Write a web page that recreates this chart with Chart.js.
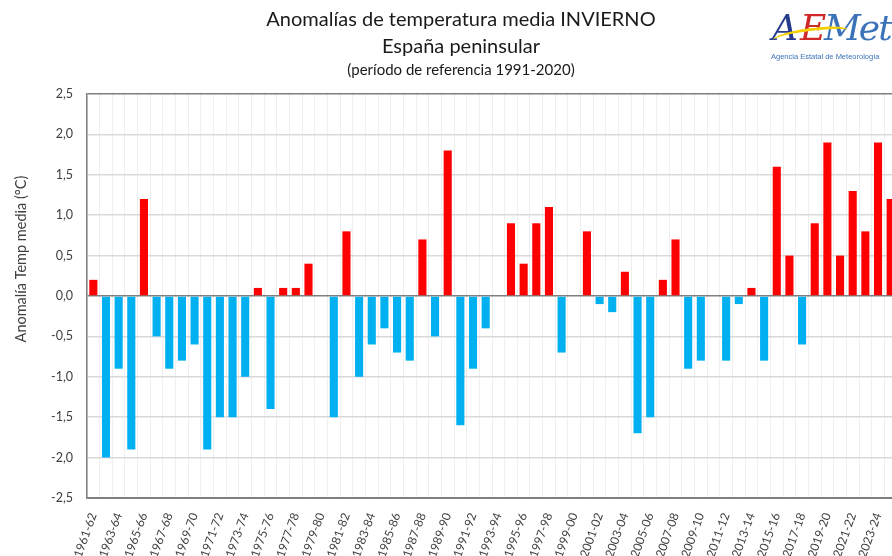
<!DOCTYPE html>
<html>
<head>
<meta charset="utf-8">
<script src="https://cdn.jsdelivr.net/npm/chart.js@4.4.1/dist/chart.umd.min.js"></script>
<style>
  body { margin: 0; width: 892px; height: 556px; overflow: hidden; background: #fff; position: relative; }
  #myChart { position: absolute; left: 0; top: 0; }
  #logo { position: absolute; left: 768px; top: 6px; width: 124px; height: 60px; }
  #logo .big { position: absolute; top: 0; font-family: "DejaVu Serif", serif; font-size: 36px; font-style: italic; line-height: 44px; }
  #logo .a { left: 4px; color: #283c8e; }
  #logo .e { left: 32px; color: #cf2a27; }
  #logo .m { left: 56px; color: #3b73b9; letter-spacing: -2px; }
  #logo .swoosh { position: absolute; left: 4px; top: 22px; width: 76px; height: 12px; border-top: 3px solid #f5d000; border-radius: 60% 40% 0 0; transform: rotate(-6deg); }
  #logo .sub { position: absolute; left: 3px; top: 46px; font-family: "Liberation Sans", sans-serif; font-size: 7.5px; color: #3b73b9; white-space: nowrap; }
</style>
</head>
<body>
<canvas id="myChart" width="922" height="556"></canvas>
<div id="logo">
  <span class="big a">A</span>
  <span class="big e">E</span>
  <span class="big m">Met</span>
  <div class="swoosh"></div>
  <div class="sub">Agencia Estatal de Meteorología</div>
</div>
<script>
const seasons = ['1961-62', '1962-63', '1963-64', '1964-65', '1965-66', '1966-67', '1967-68', '1968-69',
  '1969-70', '1970-71', '1971-72', '1972-73', '1973-74', '1974-75', '1975-76', '1976-77',
  '1977-78', '1978-79', '1979-80', '1980-81', '1981-82', '1982-83', '1983-84', '1984-85',
  '1985-86', '1986-87', '1987-88', '1988-89', '1989-90', '1990-91', '1991-92', '1992-93',
  '1993-94', '1994-95', '1995-96', '1996-97', '1997-98', '1998-99', '1999-00', '2000-01',
  '2001-02', '2002-03', '2003-04', '2004-05', '2005-06', '2006-07', '2007-08', '2008-09',
  '2009-10', '2010-11', '2011-12', '2012-13', '2013-14', '2014-15', '2015-16', '2016-17',
  '2017-18', '2018-19', '2019-20', '2020-21', '2021-22', '2022-23', '2023-24', '2024-25'];

const anomalies = [0.2, -2.0, -0.9, -1.9, 1.2, -0.5, -0.9, -0.8,
  -0.6, -1.9, -1.5, -1.5, -1.0, 0.1, -1.4, 0.1,
  0.1, 0.4, 0.0, -1.5, 0.8, -1.0, -0.6, -0.4,
  -0.7, -0.8, 0.7, -0.5, 1.8, -1.6, -0.9, -0.4,
  0.0, 0.9, 0.4, 0.9, 1.1, -0.7, 0.0, 0.8,
  -0.1, -0.2, 0.3, -1.7, -1.5, 0.2, 0.7, -0.9,
  -0.8, 0.0, -0.8, -0.1, 0.1, -0.8, 1.6, 0.5,
  -0.6, 0.9, 1.9, 0.5, 1.3, 0.8, 1.9, 1.2];

const yTickLabels = ['-2,5', '-2,0', '-1,5', '-1,0', '-0,5', '0,0', '0,5', '1,0', '1,5', '2,0', '2,5'];

const titleLines = ['Anomalías de temperatura media INVIERNO', 'España peninsular'];
const subtitleText = '(período de referencia 1991-2020)';
const yAxisTitle = 'Anomalía Temp media (°C)';

const warmColor = '#ff0000';
const coldColor = '#00b0f0';

function barColor(value) {
  return value >= 0 ? warmColor : coldColor;
}

// y title is drawn by hand: Excel puts it a bit above the middle of the axis
const yTitlePlugin = {
  id: 'yTitle',
  afterDraw(chart) {
    const c = chart.ctx;
    c.save();
    c.translate(21, 259);
    c.rotate(-Math.PI / 2);
    c.font = '14.5px Lato';
    c.fillStyle = '#404040';
    c.textAlign = 'center';
    c.textBaseline = 'middle';
    c.fillText(yAxisTitle, 0, 0);
    c.restore();
  },
};

function renderChart() {
  const ctx = document.getElementById('myChart').getContext('2d');

  new Chart(ctx, {
    type: 'bar',
    data: {
      labels: seasons,
      datasets: [
        {
          label: 'Anomalía',
          data: anomalies,
          backgroundColor: anomalies.map(barColor),
          borderWidth: 0,
          barPercentage: 0.64,
          categoryPercentage: 1,
        },
      ],
    },
    plugins: [yTitlePlugin],
    options: {
      responsive: false,
      animation: false,
      layout: {
        padding: 0,
      },
      scales: {
        x: {
          afterFit: function (scale) { scale.height = 58; },
          grid: {
            color: '#efefef',
            drawTicks: false,
            offset: true,
          },
          border: { display: true, color: '#7f7f7f', width: 1.5 },
          ticks: {
            autoSkip: false,
            minRotation: 70,
            maxRotation: 70,
            padding: 13,
            color: '#404040',
            font: { family: 'Lato', size: 12 },
            callback: function (value, index) {
              return index % 2 === 0 ? seasons[index] : '';
            },
          },
        },
        y: {
          min: -2.5,
          max: 2.5,
          afterFit: function (scale) { scale.width = 87; },
          grid: {
            drawTicks: false,
            color: function (context) {
              const v = context.tick ? context.tick.value : null;
              if (v === 0 || v === 2.5 || v === -2.5) return '#7f7f7f';
              return '#d9d9d9';
            },
            lineWidth: function (context) {
              const v = context.tick ? context.tick.value : null;
              return v === -2.5 ? 1 : 1.5;
            },
          },
          border: { display: true, color: '#7f7f7f', width: 1.5 },
          ticks: {
            stepSize: 0.5,
            padding: 14,
            color: '#404040',
            font: { family: 'Lato', size: 12.5 },
            callback: function (value, index) {
              return yTickLabels[index];
            },
          },
        },
        // empty axis on the right, only there to push the plot so the title sits where Excel put it
        yRight: {
          position: 'right',
          display: true,
          afterFit: function (scale) { scale.width = 25; },
          grid: { display: false },
          border: { display: false },
          ticks: { display: false },
        },
      },
      plugins: {
        legend: { display: false },
        tooltip: { enabled: false },
        title: {
          display: true,
          text: titleLines,
          color: '#1a1a1a',
          font: { family: 'Lato', size: 20, weight: 'normal', lineHeight: 1.35 },
          padding: { top: 6, bottom: 1 },
        },
        subtitle: {
          display: true,
          text: subtitleText,
          color: '#1a1a1a',
          font: { family: 'Lato', size: 15, weight: 'normal', lineHeight: 1.2 },
          padding: { top: 0, bottom: 15 },
        },
      },
    },
  });
}

renderChart();
</script>
</body>
</html>
